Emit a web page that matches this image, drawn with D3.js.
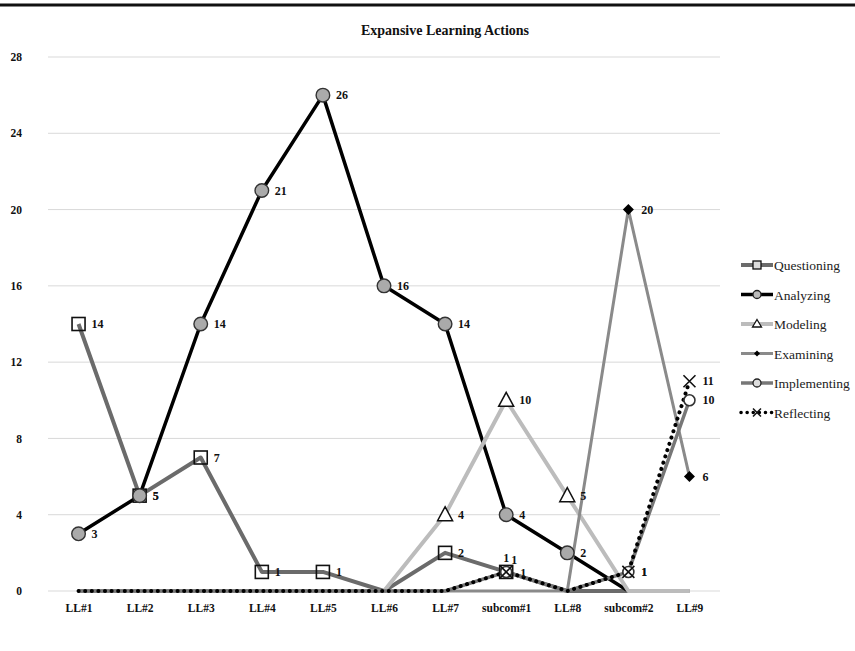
<!DOCTYPE html>
<html>
<head>
<meta charset="utf-8">
<script src="https://cdn.jsdelivr.net/npm/d3@7"></script>
<style>
  body { margin: 0; background: #fff; }
  text { font-family: "Liberation Serif", "DejaVu Serif", serif; }
</style>
</head>
<body>
<svg id="chart"></svg>
<script>
const categories = ["LL#1", "LL#2", "LL#3", "LL#4", "LL#5", "LL#6", "LL#7", "subcom#1", "LL#8", "subcom#2", "LL#9"];
const yTicks = [0, 4, 8, 12, 16, 20, 24, 28];

const questioning  = [14, 5, 7, 1, 1, 0, 2, 1, 0, 0, 0];
const analyzing    = [3, 5, 14, 21, 26, 16, 14, 4, 2, 0, null];
const modeling     = [0, 0, 0, 0, 0, 0, 4, 10, 5, 0, 0];
const examining    = [0, 0, 0, 0, 0, 0, 0, 0, 0, 20, 6];
const implementing = [0, 0, 0, 0, 0, 0, 0, 1, 0, 1, 10];
const reflecting   = [0, 0, 0, 0, 0, 0, 0, 1, 0, 1, 11];

const series = [
  { name: "Questioning", values: questioning, color: "#6b6b6b", width: 4, marker: "square" },
  { name: "Analyzing", values: analyzing, color: "#000", width: 3.5, marker: "circleGray" },
  { name: "Modeling", values: modeling, color: "#bcbcbc", width: 4, marker: "triangle" },
  { name: "Examining", values: examining, color: "#8a8a8a", width: 3, marker: "diamond" },
  { name: "Implementing", values: implementing, color: "#777", width: 3.5, marker: "circleWhite" },
  { name: "Reflecting", values: reflecting, color: "#000", width: 4, marker: "cross", dash: "0.1,6.5" }
];

const width = 855, height = 651;
const svg = d3.select("#chart").attr("width", width).attr("height", height);

// top rule
svg.append("line").attr("x1", 0).attr("x2", width).attr("y1", 5).attr("y2", 5)
  .attr("stroke", "#111").attr("stroke-width", 3);

svg.append("text").attr("x", 445).attr("y", 35).attr("text-anchor", "middle")
  .style("font-size", "14px").style("font-weight", "bold").attr("fill", "#111")
  .text("Expansive Learning Actions");

const x = d3.scalePoint().domain(categories).range([48, 720]).padding(0.5);
const y = d3.scaleLinear().domain([0, 28]).range([591, 57]);

// grid
svg.append("g").selectAll("line").data(yTicks).join("line")
  .attr("x1", 48).attr("x2", 720)
  .attr("y1", d => y(d)).attr("y2", d => y(d))
  .attr("stroke", "#d9d9d9").attr("stroke-width", 1);

const yAxis = svg.append("g").attr("transform", "translate(48,0)")
  .call(d3.axisLeft(y).tickValues(yTicks).tickSize(0).tickPadding(26));
yAxis.select(".domain").remove();
yAxis.selectAll("text").style("font-size", "11.5px").style("font-weight", "bold")
  .style("font-family", "Liberation Serif, serif").attr("fill", "#111");

const xAxis = svg.append("g").attr("transform", "translate(0,600)")
  .call(d3.axisBottom(x).tickSize(0).tickPadding(4));
xAxis.select(".domain").remove();
xAxis.selectAll("text").style("font-size", "11.5px").style("font-weight", "bold")
  .style("font-family", "Liberation Serif, serif").attr("fill", "#111");

function drawMarker(g, type, cx, cy) {
  if (type === "square") {
    g.append("rect").attr("x", cx - 6.5).attr("y", cy - 6.5).attr("width", 13).attr("height", 13)
      .attr("fill", "none").attr("stroke", "#111").attr("stroke-width", 1.6);
  } else if (type === "circleGray") {
    g.append("circle").attr("cx", cx).attr("cy", cy).attr("r", 6.8)
      .attr("fill", "#aaa").attr("stroke", "#333").attr("stroke-width", 1.4);
  } else if (type === "circleWhite") {
    g.append("circle").attr("cx", cx).attr("cy", cy).attr("r", 5.5)
      .attr("fill", "#fff").attr("stroke", "#333").attr("stroke-width", 1.6);
  } else if (type === "triangle") {
    g.append("path").attr("d", `M${cx},${cy - 8}L${cx + 7.5},${cy + 6}L${cx - 7.5},${cy + 6}Z`)
      .attr("fill", "#fff").attr("stroke", "#111").attr("stroke-width", 1.5);
  } else if (type === "diamond") {
    g.append("path").attr("d", `M${cx},${cy - 5.5}L${cx + 5.5},${cy}L${cx},${cy + 5.5}L${cx - 5.5},${cy}Z`)
      .attr("fill", "#000");
  } else if (type === "cross") {
    g.append("path").attr("d", `M${cx - 6},${cy - 6}L${cx + 6},${cy + 6}M${cx - 6},${cy + 6}L${cx + 6},${cy - 6}`)
      .attr("stroke", "#111").attr("stroke-width", 1.6);
  }
}

const line = d3.line()
  .defined(d => d.v !== null)
  .x(d => x(d.c)).y(d => y(d.v));

series.forEach(s => {
  const pts = s.values.map((v, i) => ({ c: categories[i], v }));
  svg.append("path").datum(pts)
    .attr("d", line)
    .attr("fill", "none")
    .attr("stroke", s.color)
    .attr("stroke-width", s.width)
    .attr("stroke-linecap", s.dash ? "round" : "butt")
    .attr("stroke-linejoin", "round")
    .attr("stroke-dasharray", s.dash || null);
});

// markers for non-zero points
const markG = svg.append("g");
series.forEach(s => {
  s.values.forEach((v, i) => {
    if (v) drawMarker(markG, s.marker, x(categories[i]), y(v));
  });
});

// data labels; spread them when three land on the same spot
const labels = [];
series.forEach(s => s.values.forEach((v, i) => { if (v) labels.push({ i, v }); }));
const groups = d3.group(labels, d => d.i + "_" + d.v);
const labG = svg.append("g");
groups.forEach(list => {
  list.forEach((d, k) => {
    let dx = 13, dy = 4;
    if (list.length >= 3) {
      if (k === 1) { dx = -3; dy = -10; }
      if (k === 2) { dx = 5; dy = -8; }
      if (k === 0) { dx = 14; dy = 5; }
    }
    labG.append("text")
      .attr("x", x(categories[d.i]) + dx).attr("y", y(d.v) + dy)
      .style("font-size", "12px").style("font-weight", "bold").attr("fill", "#111")
      .text(d.v);
  });
});

// legend
const legend = svg.append("g");
series.forEach((s, i) => {
  const ly = 265 + i * 29.5;
  legend.append("line").attr("x1", 741).attr("x2", 773).attr("y1", ly).attr("y2", ly)
    .attr("stroke", s.color).attr("stroke-width", s.dash ? 3.5 : s.width)
    .attr("stroke-linecap", s.dash ? "round" : "butt")
    .attr("stroke-dasharray", s.dash ? "0.1,6" : null);
  const m = legend.append("g");
  if (s.marker === "square") {
    m.append("rect").attr("x", 753).attr("y", ly - 4).attr("width", 8).attr("height", 8)
      .attr("fill", "#ddd").attr("stroke", "#111").attr("stroke-width", 1.3);
  } else if (s.marker === "circleGray" || s.marker === "circleWhite") {
    m.append("circle").attr("cx", 757).attr("cy", ly).attr("r", 4)
      .attr("fill", s.marker === "circleGray" ? "#bbb" : "#ddd").attr("stroke", "#222").attr("stroke-width", 1.3);
  } else if (s.marker === "triangle") {
    m.append("path").attr("d", `M757,${ly - 4.5}L761.5,${ly + 3}L752.5,${ly + 3}Z`)
      .attr("fill", "#fff").attr("stroke", "#111").attr("stroke-width", 1.3);
  } else if (s.marker === "diamond") {
    m.append("path").attr("d", `M757,${ly - 3}L760,${ly}L757,${ly + 3}L754,${ly}Z`).attr("fill", "#000");
  } else if (s.marker === "cross") {
    m.append("path").attr("d", `M753,${ly - 4}L761,${ly + 4}M753,${ly + 4}L761,${ly - 4}`)
      .attr("stroke", "#111").attr("stroke-width", 1.5);
  }
  legend.append("text").attr("x", 774).attr("y", ly + 5)
    .style("font-size", "13.5px").attr("fill", "#222")
    .text(s.name);
});
</script>
</body>
</html>
